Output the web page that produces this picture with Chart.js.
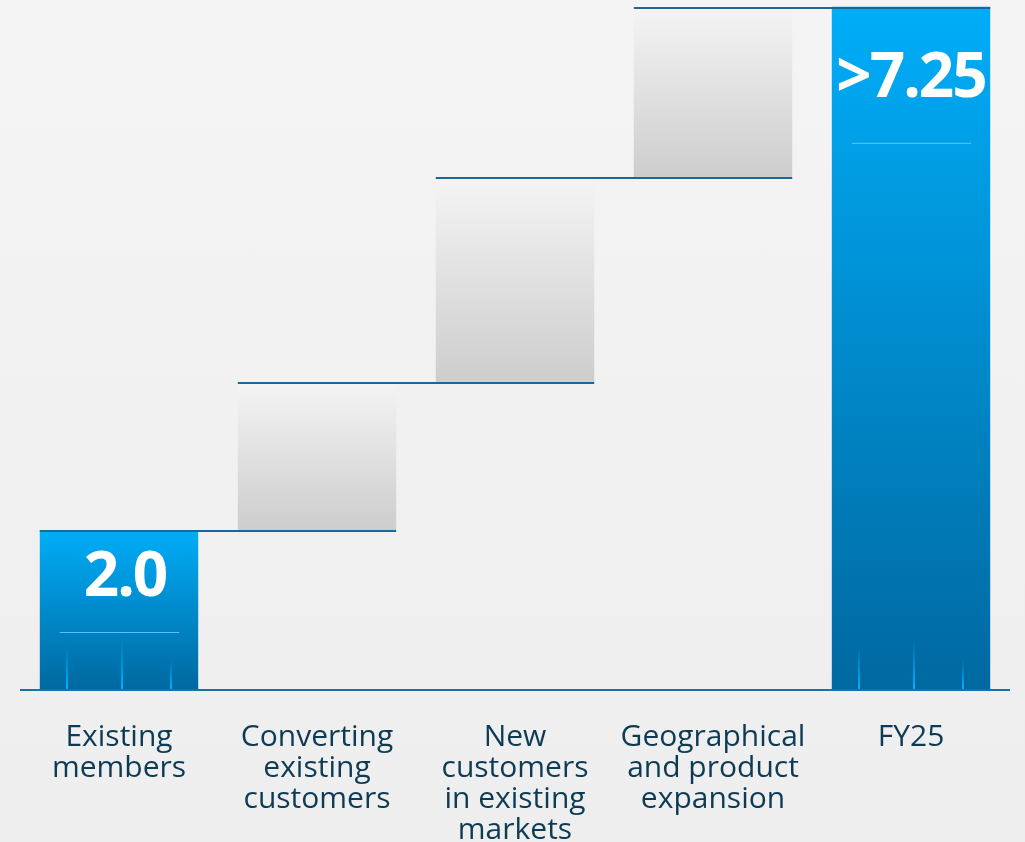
<!DOCTYPE html>
<html>
<head>
<meta charset="utf-8">
<script src="https://cdn.jsdelivr.net/npm/chart.js@4"></script>
<style>
  html, body { margin: 0; padding: 0; }
  body { background: linear-gradient(#f4f4f4, #eeeeee); }
  #wrap { width: 1025px; height: 842px; position: relative; }
</style>
</head>
<body>
<div id="wrap"><canvas id="waterfall"></canvas></div>
<script>
// categories (multi-line tick labels)
const categories = [
    ['Existing', 'members'],
    ['Converting', 'existing', 'customers'],
    ['New', 'customers', 'in existing', 'markets'],
    ['Geographical', 'and product', 'expansion'],
    'FY25'
];
// waterfall steps: where each bar starts and ends
const stepStart = [0, 2.0, 3.85, 6.41, 0];
const stepEnd = [2.0, 3.85, 6.41, 8.54, 8.54];
// text printed inside the totals
const valueLabels = ['2.0', '', '', '', '>7.25'];
const isTotal = [true, false, false, false, true];

// label placement inside blue bars (px below bar top)
const labelDrop = [48, 73, 0, 0, 73];
const ruleDrop = [102, 0, 0, 0, 136];
const labelShift = [6, 0, 0, 0, 0];

const lineColor = '#1a6898';

const barFill = (ctx) => {
    const chart = ctx.chart;
    const y = chart.scales.y;
    const i = ctx.dataIndex;
    if (!chart.chartArea || !y) return isTotal[i] ? '#0090d0' : '#dddddd';
    const top = y.getPixelForValue(stepEnd[i]);
    const bottom = y.getPixelForValue(stepStart[i]);
    const g = chart.ctx.createLinearGradient(0, top, 0, bottom);
    if (isTotal[i]) {
        g.addColorStop(0, '#00adf8');
        g.addColorStop(1, '#0068a0');
    } else {
        g.addColorStop(0, '#f4f4f4');
        g.addColorStop(1, '#cdcdcd');
    }
    return g;
};

const decorations = {
    id: 'decorations',
    afterDatasetsDraw(chart) {
        const ctx = chart.ctx;
        const meta = chart.getDatasetMeta(0);
        const y = chart.scales.y;
        const area = chart.chartArea;
        ctx.save();

        // glowing stems + rule + value inside the blue bars
        meta.data.forEach((bar, i) => {
            if (!isTotal[i]) return;
            const left = bar.x - bar.width / 2;
            const w = bar.width;
            const bottom = y.getPixelForValue(stepStart[i]);
            const top = y.getPixelForValue(stepEnd[i]);
            [[0.17, 44], [0.52, 52], [0.83, 30]].forEach(([f, h]) => {
                const gx = Math.round(left + w * f);
                const g = ctx.createLinearGradient(0, bottom - h, 0, bottom);
                g.addColorStop(0, 'rgba(0,176,255,0)');
                g.addColorStop(1, 'rgba(0,180,255,1)');
                ctx.fillStyle = g;
                ctx.fillRect(gx - 1, bottom - h, 2, h);
            });
            ctx.strokeStyle = 'rgba(110,205,255,0.85)';
            ctx.lineWidth = 1;
            ctx.beginPath();
            ctx.moveTo(left + 20, top + ruleDrop[i] + 0.5);
            ctx.lineTo(left + w - 19, top + ruleDrop[i] + 0.5);
            ctx.stroke();

            ctx.fillStyle = '#ffffff';
            ctx.font = 'bold 62px "Open Sans"';
            ctx.letterSpacing = '-2px';
            ctx.textAlign = 'center';
            ctx.textBaseline = 'middle';
            ctx.fillText(valueLabels[i], bar.x + labelShift[i], top + labelDrop[i]);
        });
        ctx.letterSpacing = '0px';

        // connectors: from left of bar i to right of bar i+1
        ctx.strokeStyle = lineColor;
        ctx.lineWidth = 2;
        for (let i = 0; i < meta.data.length - 1; i++) {
            const a = meta.data[i], b = meta.data[i + 1];
            const py = Math.round(y.getPixelForValue(stepEnd[i])) + 1;
            ctx.beginPath();
            ctx.moveTo(a.x - a.width / 2, py);
            ctx.lineTo(b.x + b.width / 2, py);
            ctx.stroke();
        }

        // baseline
        const by = Math.round(y.getPixelForValue(0));
        ctx.strokeStyle = '#1b70a6';
        ctx.beginPath();
        ctx.moveTo(area.left, by);
        ctx.lineTo(area.right, by);
        ctx.stroke();
        ctx.restore();
    }
};

new Chart(document.getElementById('waterfall'), {
    type: 'bar',
    data: {
        labels: categories,
        datasets: [{
            data: stepStart.map((s, i) => [s, stepEnd[i]]),
            backgroundColor: barFill,
            borderWidth: 0,
            barPercentage: 0.8,
            categoryPercentage: 1
        }]
    },
    options: {
        responsive: true,
        maintainAspectRatio: false,
        animation: false,
        events: [],
        layout: { padding: { left: 20, right: 15, top: 2, bottom: 0 } },
        scales: {
            x: {
                grid: { display: false },
                border: { display: false },
                ticks: {
                    color: '#0d3b55',
                    font: { family: '"Open Sans"', size: 30, lineHeight: 1.03 },
                    padding: 24,
                    maxRotation: 0,
                    autoSkip: false
                },
                afterFit: (scale) => { scale.height = 152; }
            },
            y: {
                display: false,
                min: 0,
                max: 8.6
            }
        },
        plugins: {
            legend: { display: false },
            tooltip: { enabled: false }
        }
    },
    plugins: [decorations]
});
</script>
</body>
</html>
